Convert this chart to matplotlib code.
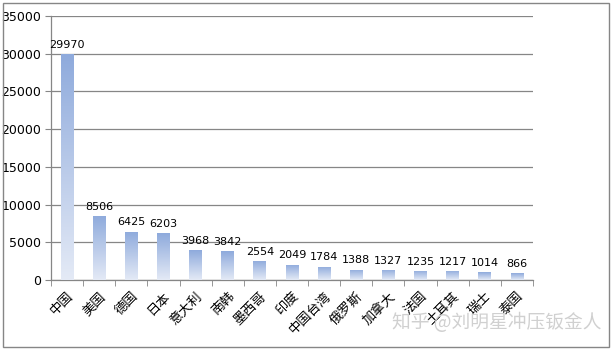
import numpy as np
import matplotlib.pyplot as plt
from matplotlib.colors import LinearSegmentedColormap
from matplotlib.patches import Rectangle

plt.rcParams['font.family'] = ['DejaVu Sans', 'Noto Sans CJK SC']

countries = ['中国', '美国', '德国', '日本', '意大利', '南韩', '墨西哥', '印度',
             '中国台湾', '俄罗斯', '加拿大', '法国', '土耳其', '瑞士', '泰国']
values = [29970, 8506, 6425, 6203, 3968, 3842, 2554, 2049,
          1784, 1388, 1327, 1235, 1217, 1014, 866]

axis_grey = '#868686'
grad = LinearSegmentedColormap.from_list('bar', ['#e4eaf6', '#8eaadc'])

fig = plt.figure(figsize=(6.14, 3.51), dpi=100)
ax = fig.add_axes([51 / 614, 1 - 280 / 351, (533 - 51) / 614, (280 - 16) / 351])

x = np.arange(len(values))
w = 0.4
bars = ax.bar(x, values, width=w, color='none', edgecolor='none', zorder=3)

# vertical gradient fill for each bar
g = np.linspace(0, 1, 256).reshape(-1, 1)
for b in bars:
    bx, by = b.get_x(), b.get_height()
    im = ax.imshow(g, cmap=grad, aspect='auto', origin='lower',
                   extent=[bx, bx + w, 0, by], zorder=3)
    im.set_clip_path(b)

for xi, v in zip(x, values):
    ax.annotate(str(v), (xi, v), xytext=(0, 3), textcoords='offset points',
                ha='center', va='bottom', fontsize=8, color='black')

ax.set_xlim(-0.5, len(values) - 0.5)
ax.set_ylim(0, 35000)
ax.set_yticks(np.arange(0, 35001, 5000))
ax.yaxis.grid(True, color=axis_grey, linewidth=0.9)
ax.set_axisbelow(True)

ax.set_xticks(x)
ax.set_xticklabels(countries, rotation=45, ha='right', va='top',
                   rotation_mode='anchor', fontsize=9.5,
                   family=['Noto Sans CJK SC', 'DejaVu Sans'])
ax.set_xticks(np.arange(-0.5, len(values)), minor=True)
ax.tick_params(axis='x', which='major', length=0, pad=7)
ax.tick_params(axis='x', which='minor', length=4, color=axis_grey, direction='out')
ax.tick_params(axis='y', length=4, color=axis_grey, labelsize=9, pad=3)

for s in ['top', 'right']:
    ax.spines[s].set_visible(False)
for s in ['left', 'bottom']:
    ax.spines[s].set_color(axis_grey)
    ax.spines[s].set_linewidth(0.9)

# chart border
fig.patches.append(Rectangle((3 / 614, 4 / 351), 606 / 614, 344 / 351,
                             transform=fig.transFigure, fill=False,
                             edgecolor=axis_grey, linewidth=1))

fig.text(392 / 614, 1 - 323 / 351, '知乎 @刘明星冲压钣金人', fontsize=13.5,
         color='#d0d0d0', va='center', ha='left',
         family=['Noto Sans CJK SC', 'DejaVu Sans'])

fig.savefig('out.png', dpi=100)
